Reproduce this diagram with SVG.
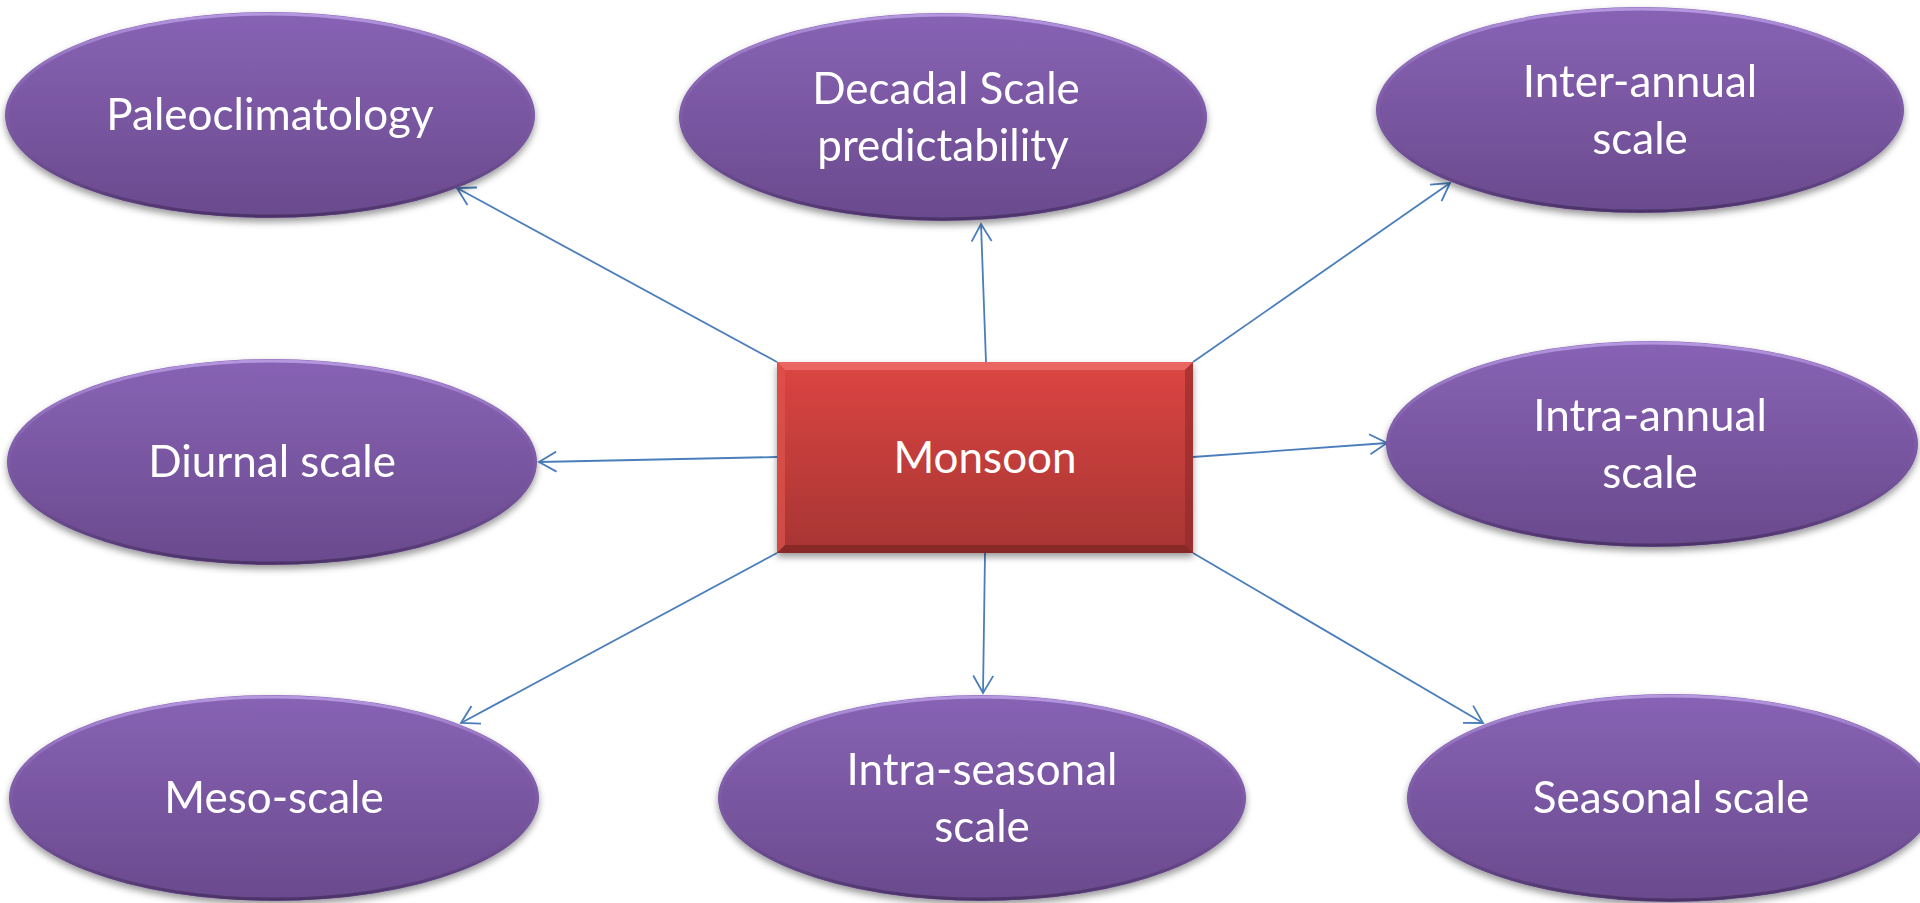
<svg xmlns="http://www.w3.org/2000/svg" width="1920" height="903" viewBox="0 0 1920 903">
<defs>
<style>
.lbl{font-family:Lato,"Liberation Sans",sans-serif;font-size:44px;fill:#ffffff;text-anchor:middle}
.ell{fill:url(#gEll)}
.rim{fill:none;stroke:url(#gRim);stroke-width:3}
.con{stroke:#4a7ebb;stroke-width:1.8;fill:none;marker-end:url(#arr)}
</style>
<linearGradient id="gEll" x1="0" y1="0" x2="0" y2="1">
<stop offset="0" stop-color="#8863b5"/>
<stop offset="1" stop-color="#6a4a8d"/>
</linearGradient>
<linearGradient id="gRim" x1="0" y1="0" x2="0" y2="1">
<stop offset="0" stop-color="#b597e0"/>
<stop offset="0.45" stop-color="#8a67b8" stop-opacity="0.3"/>
<stop offset="1" stop-color="#4c3368"/>
</linearGradient>
<linearGradient id="gBox" x1="0" y1="0" x2="0" y2="1">
<stop offset="0" stop-color="#dc4541"/>
<stop offset="1" stop-color="#a73534"/>
</linearGradient>
<filter id="sh" x="-10%" y="-10%" width="120%" height="130%">
<feGaussianBlur in="SourceAlpha" stdDeviation="3.5"/>
<feOffset dy="4" result="b"/>
<feFlood flood-color="#000" flood-opacity="0.4"/>
<feComposite in2="b" operator="in"/>
<feMerge><feMergeNode/><feMergeNode in="SourceGraphic"/></feMerge>
</filter>
<marker id="arr" viewBox="0 0 22 22" refX="20" refY="11" markerWidth="22" markerHeight="22" markerUnits="userSpaceOnUse" orient="auto">
<path d="M2.7,1 L20,11 L2.7,21" fill="none" stroke="#4a7ebb" stroke-width="1.8"/>
</marker>
</defs>
<rect width="1920" height="903" fill="#ffffff"/>
<g id="connectors">
<line class="con" x1="777" y1="362" x2="457" y2="188"/>
<line class="con" x1="986" y1="362" x2="981" y2="224"/>
<line class="con" x1="1193" y1="362" x2="1450" y2="183"/>
<line class="con" x1="777" y1="457" x2="539" y2="462"/>
<line class="con" x1="1193" y1="457" x2="1387" y2="443"/>
<line class="con" x1="777" y1="553" x2="461" y2="723"/>
<line class="con" x1="985" y1="553" x2="983" y2="693"/>
<line class="con" x1="1193" y1="553" x2="1483" y2="723"/>
</g>
<g id="monsoon">
<g filter="url(#sh)">
<rect x="777" y="362" width="416" height="191" fill="url(#gBox)"/>
</g>
<polygon points="777,362 1193,362 1185,370 785,370" fill="#ee6e69" opacity="0.8"/>
<polygon points="777,362 785,370 785,545 777,553" fill="#e0524d" opacity="0.7"/>
<polygon points="1193,362 1193,553 1185,545 1185,370" fill="#8e2a29" opacity="0.6"/>
<polygon points="777,553 785,545 1185,545 1193,553" fill="#7a2322" opacity="0.7"/>
<text class="lbl" x="985" y="473">Monsoon</text>
</g>
<g id="paleoclimatology" filter="url(#sh)">
<ellipse class="ell" cx="270" cy="115" rx="265" ry="103"/>
<ellipse class="rim" cx="270" cy="115" rx="263" ry="101"/>
<text class="lbl" x="270" y="130">Paleoclimatology</text>
</g>
<g id="decadal" filter="url(#sh)">
<ellipse class="ell" cx="943" cy="117" rx="264" ry="104"/>
<ellipse class="rim" cx="943" cy="117" rx="262" ry="102"/>
<text class="lbl" x="946" y="104">Decadal Scale</text>
<text class="lbl" x="943" y="161">predictability</text>
</g>
<g id="interannual" filter="url(#sh)">
<ellipse class="ell" cx="1640" cy="110" rx="264" ry="103"/>
<ellipse class="rim" cx="1640" cy="110" rx="262" ry="101"/>
<text class="lbl" x="1640" y="97">Inter-annual</text>
<text class="lbl" x="1640" y="154">scale</text>
</g>
<g id="diurnal" filter="url(#sh)">
<ellipse class="ell" cx="272" cy="462" rx="265" ry="103"/>
<ellipse class="rim" cx="272" cy="462" rx="263" ry="101"/>
<text class="lbl" x="272" y="477">Diurnal scale</text>
</g>
<g id="intraannual" filter="url(#sh)">
<ellipse class="ell" cx="1652" cy="444" rx="266" ry="103"/>
<ellipse class="rim" cx="1652" cy="444" rx="264" ry="101"/>
<text class="lbl" x="1650" y="431">Intra-annual</text>
<text class="lbl" x="1650" y="488">scale</text>
</g>
<g id="meso" filter="url(#sh)">
<ellipse class="ell" cx="274" cy="798" rx="265" ry="103"/>
<ellipse class="rim" cx="274" cy="798" rx="263" ry="101"/>
<text class="lbl" x="274" y="813">Meso-scale</text>
</g>
<g id="intraseasonal" filter="url(#sh)">
<ellipse class="ell" cx="982" cy="798" rx="264" ry="103"/>
<ellipse class="rim" cx="982" cy="798" rx="262" ry="101"/>
<text class="lbl" x="982" y="785">Intra-seasonal</text>
<text class="lbl" x="982" y="842">scale</text>
</g>
<g id="seasonal" filter="url(#sh)">
<ellipse class="ell" cx="1671" cy="798" rx="264" ry="104"/>
<ellipse class="rim" cx="1671" cy="798" rx="262" ry="102"/>
<text class="lbl" x="1671" y="813">Seasonal scale</text>
</g>
</svg>
